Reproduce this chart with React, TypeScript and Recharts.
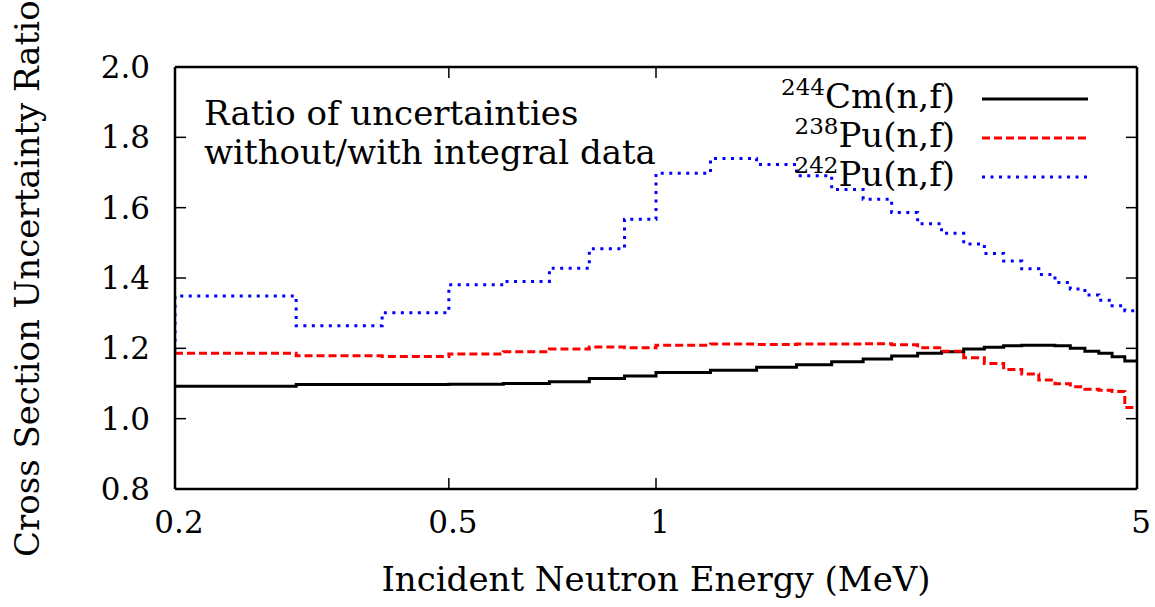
import { LineChart, Line, XAxis, YAxis, Legend, Label } from "recharts";

// group lower bounds (MeV), last entry closes the final group
const energy = [0.2, 0.3, 0.4, 0.5, 0.6, 0.7, 0.8, 0.9, 1.0, 1.2, 1.4, 1.6, 1.8, 2.0, 2.2, 2.4, 2.6, 2.8, 3.0, 3.2, 3.4, 3.6, 3.8, 4.0, 4.2, 4.4, 4.6, 4.8, 5.0];
const cm244 = [1.092, 1.097, 1.097, 1.098, 1.1, 1.105, 1.114, 1.121, 1.131, 1.138, 1.146, 1.153, 1.162, 1.17, 1.178, 1.186, 1.19, 1.198, 1.203, 1.207, 1.209, 1.209, 1.207, 1.2, 1.192, 1.186, 1.176, 1.164, 1.164];
const pu238 = [1.186, 1.179, 1.177, 1.184, 1.19, 1.198, 1.204, 1.202, 1.209, 1.212, 1.211, 1.212, 1.212, 1.213, 1.21, 1.202, 1.192, 1.173, 1.157, 1.14, 1.127, 1.11, 1.099, 1.091, 1.084, 1.081, 1.077, 1.032, 1.032];
const pu242 = [1.349, 1.264, 1.301, 1.381, 1.39, 1.428, 1.483, 1.567, 1.698, 1.74, 1.723, 1.691, 1.652, 1.624, 1.586, 1.554, 1.527, 1.497, 1.47, 1.448, 1.426, 1.41, 1.387, 1.369, 1.352, 1.337, 1.321, 1.307, 1.307];
// 242Pu group just below the plotted range (only its edge shows at 0.2 MeV)
const pu242Below = { e: 0.19, v: 1.19 };

const xTicks = [0.2, 0.5, 1, 5];
const yTicks = [0.8, 1.0, 1.2, 1.4, 1.6, 1.8, 2.0];

const series = [
  { key: "cm244", mass: "244", name: "Cm(n,f)", color: "#000000", dash: undefined },
  { key: "pu238", mass: "238", name: "Pu(n,f)", color: "#ff0000", dash: "8 4" },
  { key: "pu242", mass: "242", name: "Pu(n,f)", color: "#0000ff", dash: "3 5.5" },
];

const data = [
  { e: pu242Below.e, pu242: pu242Below.v },
  ...energy.map((e, i) => ({ e, cm244: cm244[i], pu238: pu238[i], pu242: pu242[i] })),
];

const FONT = "'DejaVu Serif', serif";
const FS = 31;
const W = 1155;
const H = 607;
const margin = { top: 67, right: 18, bottom: 68, left: 75 };
const Y_AXIS_W = 100;
const X_AXIS_H = 50;
const PLOT_W = W - margin.left - margin.right - Y_AXIS_W;
const PLOT_H = H - margin.top - margin.bottom - X_AXIS_H;
const GAP = 22; // label distance from border
const TICK = 11; // inward tick length
const border = { stroke: "#000", strokeWidth: 2.5 };

// bottom labels + inward ticks on bottom and top borders
function XTick({ x, y, payload }: any) {
  const yb = y - GAP;
  const yt = yb - PLOT_H;
  return (
    <g>
      <line x1={x} x2={x} y1={yb} y2={yb - TICK} stroke="#000" strokeWidth={1.5} />
      <line x1={x} x2={x} y1={yt} y2={yt + TICK} stroke="#000" strokeWidth={1.5} />
      <text x={x + 4} y={y} dy="0.71em" textAnchor="middle" fill="#000" fontSize={FS}>
        {String(payload.value)}
      </text>
    </g>
  );
}

// left labels + inward ticks on left and right borders
function YTick({ x, y, payload }: any) {
  const xl = x + GAP;
  const xr = xl + PLOT_W;
  return (
    <g>
      <line x1={xl} x2={xl + TICK} y1={y} y2={y} stroke="#000" strokeWidth={1.5} />
      <line x1={xr} x2={xr - TICK} y1={y} y2={y} stroke="#000" strokeWidth={1.5} />
      <text x={x - 3} y={y} dy="0.355em" textAnchor="end" fill="#000" fontSize={FS}>
        {payload.value.toFixed(1)}
      </text>
    </g>
  );
}

function renderLegend() {
  return (
    <div style={{ fontFamily: FONT }}>
      {series.map((s) => (
        <div key={s.key} style={{ display: "flex", alignItems: "center", height: 39 }}>
          <div style={{ width: 255, textAlign: "right", fontSize: 34, lineHeight: "39px", whiteSpace: "nowrap" }}>
            <span style={{ fontSize: 23, position: "relative", top: -13 }}>{s.mass}</span>
            {s.name}
          </div>
          <svg width={134} height={10}>
            <line x1={27} y1={5} x2={133} y2={5} stroke={s.color} strokeWidth={3} strokeDasharray={s.dash} />
          </svg>
        </div>
      ))}
    </div>
  );
}

export default function App() {
  return (
    <div style={{ position: "absolute", left: 0, top: 0, width: W, height: H, background: "#fff", fontFamily: FONT, overflow: "hidden" }}>
      <LineChart width={W} height={H} data={data} margin={margin}>
        <XAxis
          dataKey="e"
          type="number"
          scale="log"
          domain={[0.2, 5]}
          allowDataOverflow
          ticks={xTicks}
          height={X_AXIS_H}
          tickSize={0}
          tickMargin={GAP}
          tickLine={false}
          axisLine={border}
          tick={<XTick />}
        >
          <Label value="Incident Neutron Energy (MeV)" position="bottom" offset={28} fill="#000" fontSize={34} />
        </XAxis>
        <XAxis xAxisId="top" orientation="top" mirror dataKey="e" type="number" scale="log" domain={[0.2, 5]} allowDataOverflow ticks={xTicks} height={12} tick={false} tickLine={false} axisLine={border} />
        <YAxis
          type="number"
          domain={[0.8, 2.0]}
          ticks={yTicks}
          width={Y_AXIS_W}
          tickSize={0}
          tickMargin={GAP}
          tickLine={false}
          axisLine={border}
          tick={<YTick />}
        >
          <Label
            content={() => (
              <text x={39} y={557} transform="rotate(-90, 39, 557)" fill="#000" fontSize={34} textAnchor="start">
                Cross Section Uncertainty Ratio
              </text>
            )}
          />
        </YAxis>
        <YAxis yAxisId="right" orientation="right" mirror type="number" domain={[0.8, 2.0]} ticks={yTicks} width={12} tick={false} tickLine={false} axisLine={border} />
        <Legend
          layout="vertical"
          align="center"
          verticalAlign="middle"
          wrapperStyle={{ left: 700, top: 79, width: 400 }}
          content={renderLegend}
        />
        {series.map((s) => (
          <Line
            key={s.key}
            dataKey={s.key}
            name={s.name}
            type="stepAfter"
            stroke={s.color}
            strokeWidth={3}
            strokeDasharray={s.dash}
            dot={false}
            activeDot={false}
            isAnimationActive={false}
          />
        ))}
      </LineChart>
      <div style={{ position: "absolute", left: 204, top: 94, fontSize: 34, lineHeight: "39px", color: "#000" }}>
        Ratio of uncertainties
        <br />
        without/with integral data
      </div>
    </div>
  );
}
